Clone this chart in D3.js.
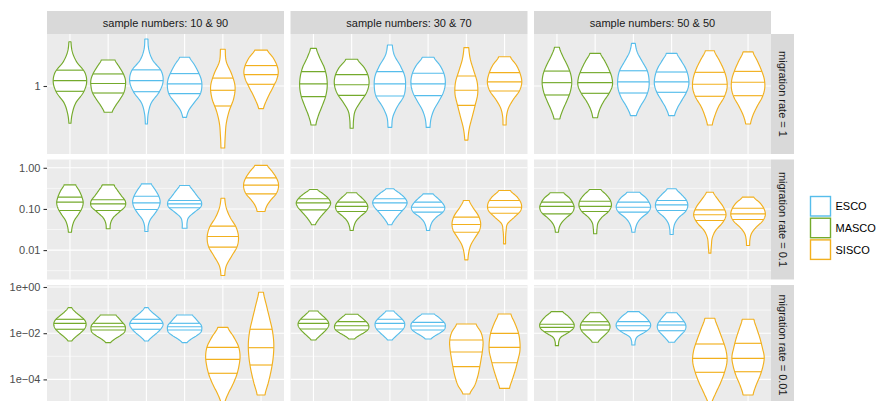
<!DOCTYPE html>
<html>
<head>
<meta charset="utf-8">
<script src="https://cdn.jsdelivr.net/npm/d3@7"></script>
<style>
  html, body { margin: 0; padding: 0; background: #ffffff; }
  svg { display: block; }
  text { font-family: "Liberation Sans", Arial, Helvetica, sans-serif; }
</style>
</head>
<body>
<div id="chart"></div>
<script>
// Facet labels
const sampleNumbers = ["10 & 90", "30 & 70", "50 & 50"];
const migrationRates = ["1", "0.1", "0.01"];

// Six violins per panel, two per method
const violinMethods = ["MASCO", "MASCO", "ESCO", "ESCO", "SISCO", "SISCO"];
const legendMethods = ["ESCO", "MASCO", "SISCO"];
const methodColours = { ESCO: "#56BDEB", MASCO: "#74AA2C", SISCO: "#F2B01E" };

// Log y axis of each facet row
const rowLimits = [[0.209, 3.31], [0.00193, 1.59], [7.8e-6, 1.22]];
const rowTicks = [[1], [1, 0.1, 0.01], [1, 0.01, 0.0001]];
const rowTickLabels = [["1"], ["1.00", "0.10", "0.01"], ["1e+00", "1e\u221202", "1e\u221204"]];
const rowMinorTicks = [[], [0.316, 0.0316, 0.00316], [0.1, 0.001, 0.00001]];

// Summary values: panels in row order (rate 1, 0.1, 0.01) x (10&90, 30&70, 50&50)
const vMin = [
  [0.424, 0.546, 0.417, 0.486, 0.240, 0.593],
  [0.407, 0.378, 0.386, 0.386, 0.288, 0.407],
  [0.468, 0.482, 0.505, 0.505, 0.407, 0.417],
  [0.0272, 0.0330, 0.0283, 0.0340, 0.00241, 0.0867],
  [0.0412, 0.0299, 0.0412, 0.0299, 0.00581, 0.0142],
  [0.0272, 0.0249, 0.0272, 0.0239, 0.00841, 0.0129],
  [0.00459, 0.00388, 0.00459, 0.00388, 8.6e-6, 2.11e-5],
  [0.00508, 0.00561, 0.00508, 0.00561, 2.33e-5, 4.12e-5],
  [0.00288, 0.00404, 0.00308, 0.00404, 8.6e-6, 2.11e-5]
];
const vQ25 = [
  [0.885, 0.851, 0.877, 0.838, 0.631, 1.04],
  [0.782, 0.807, 0.794, 0.800, 0.641, 0.891],
  [0.813, 0.845, 0.851, 0.865, 0.789, 0.800],
  [0.0917, 0.0917, 0.0970, 0.107, 0.0118, 0.233],
  [0.0953, 0.0867, 0.0917, 0.0834, 0.0272, 0.0788],
  [0.0762, 0.0867, 0.0834, 0.0917, 0.0524, 0.0554],
  [0.0148, 0.0138, 0.0148, 0.0138, 0.000184, 0.000420],
  [0.0152, 0.0138, 0.0152, 0.0138, 0.000355, 0.000528],
  [0.0116, 0.0138, 0.0128, 0.0128, 0.000203, 0.000215]
];
const vMedian = [
  [1.13, 1.06, 1.13, 1.05, 0.906, 1.30],
  [1.05, 1.03, 1.05, 1.05, 0.906, 1.10],
  [1.08, 1.08, 1.10, 1.10, 1.04, 1.09],
  [0.146, 0.133, 0.141, 0.133, 0.0214, 0.378],
  [0.141, 0.115, 0.141, 0.110, 0.0419, 0.110],
  [0.115, 0.115, 0.110, 0.126, 0.0721, 0.0762],
  [0.0268, 0.0191, 0.0268, 0.0191, 0.000741, 0.00236],
  [0.0268, 0.0211, 0.0268, 0.0205, 0.00153, 0.00245],
  [0.0180, 0.0226, 0.0211, 0.0226, 0.000819, 0.000819]
];
const vQ75 = [
  [1.44, 1.32, 1.45, 1.33, 1.20, 1.60],
  [1.39, 1.30, 1.39, 1.34, 1.26, 1.36],
  [1.41, 1.36, 1.42, 1.38, 1.37, 1.40],
  [0.193, 0.167, 0.204, 0.160, 0.0381, 0.571],
  [0.177, 0.146, 0.177, 0.146, 0.0631, 0.160],
  [0.146, 0.154, 0.146, 0.160, 0.0953, 0.104],
  [0.0400, 0.0268, 0.0400, 0.0268, 0.00245, 0.0148],
  [0.0400, 0.0315, 0.0400, 0.0296, 0.00508, 0.00990],
  [0.0243, 0.0315, 0.0315, 0.0315, 0.00341, 0.00365]
];
const vMax = [
  [2.77, 1.82, 2.95, 1.94, 2.33, 2.28],
  [2.38, 1.85, 2.57, 1.94, 2.42, 1.96],
  [2.44, 2.12, 2.67, 2.12, 2.25, 2.19],
  [0.386, 0.386, 0.408, 0.371, 0.182, 1.14],
  [0.297, 0.247, 0.309, 0.233, 0.160, 0.281],
  [0.247, 0.297, 0.255, 0.309, 0.255, 0.193],
  [0.127, 0.0614, 0.127, 0.0614, 0.0180, 0.590],
  [0.0914, 0.0658, 0.0914, 0.0678, 0.0250, 0.0678],
  [0.0853, 0.0771, 0.0853, 0.0771, 0.0442, 0.0400]
];

// Relative density (1 = widest violin) at nine evenly spaced levels, min -> max
const vDensity = [
  [[.06,.14,.34,.77,.97,.86,.40,.14,.06], [.23,.43,.69,.91,1.0,1.0,.86,.63,.40], [.06,.11,.29,.74,.97,.86,.37,.14,.09],
   [.11,.26,.57,.89,1.0,.97,.80,.57,.29], [.11,.14,.20,.37,.63,.71,.51,.20,.14], [.14,.29,.49,.71,.91,1.0,.91,.69,.37]],
  [[.14,.29,.51,.71,.80,.77,.63,.37,.17], [.09,.11,.20,.49,.83,1.0,.97,.74,.34], [.11,.17,.43,.80,.91,.86,.60,.26,.14],
   [.11,.17,.34,.63,.89,1.0,.94,.71,.34], [.09,.17,.34,.51,.66,.63,.43,.23,.14], [.09,.11,.23,.51,.86,1.0,.91,.69,.34]],
  [[.17,.34,.57,.77,.86,.80,.60,.34,.14], [.14,.26,.49,.80,1.0,.97,.80,.57,.31], [.17,.40,.71,.89,.91,.80,.51,.23,.11],
   [.17,.34,.60,.86,1.0,.97,.83,.57,.31], [.14,.29,.51,.83,1.0,.97,.80,.54,.26], [.14,.29,.54,.83,.97,.94,.77,.54,.29]],
  [[.09,.14,.26,.49,.69,.77,.69,.54,.34], [.11,.14,.29,.63,.97,1.0,.77,.54,.34], [.09,.11,.23,.49,.71,.80,.71,.51,.29],
   [.14,.14,.23,.57,.94,.97,.74,.51,.29], [.11,.20,.51,.83,.91,.77,.43,.20,.11], [.23,.34,.57,.86,1.0,1.0,.86,.63,.37]],
  [[.11,.26,.46,.69,.91,1.0,.86,.57,.23], [.09,.14,.26,.51,.83,.94,.83,.57,.29], [.11,.26,.46,.69,.91,1.0,.86,.57,.23],
   [.09,.14,.26,.51,.86,.97,.83,.57,.29], [.09,.14,.26,.51,.77,.83,.69,.40,.17], [.06,.06,.09,.17,.57,.94,.97,.74,.34]],
  [[.09,.14,.29,.57,.89,1.0,.91,.71,.40], [.09,.11,.17,.40,.77,.94,.89,.66,.34], [.09,.14,.26,.51,.86,1.0,.91,.69,.37],
   [.09,.11,.20,.43,.80,.94,.86,.57,.26], [.06,.09,.14,.34,.74,.94,.80,.49,.20], [.09,.11,.20,.46,.83,1.0,.94,.71,.34]],
  [[.11,.34,.63,.86,.94,.86,.60,.31,.11], [.14,.37,.69,.94,1.0,.97,.80,.63,.46], [.11,.34,.63,.86,.97,.86,.60,.31,.11],
   [.14,.37,.69,.94,1.0,.97,.80,.63,.46], [.09,.29,.57,.80,.94,1.0,.91,.63,.29], [.23,.43,.60,.71,.74,.66,.49,.31,.14]],
  [[.14,.34,.57,.77,.89,.86,.69,.46,.26], [.17,.40,.71,.94,1.0,.94,.77,.57,.37], [.14,.34,.57,.77,.86,.83,.66,.43,.23],
   [.17,.40,.71,.94,1.0,.97,.80,.60,.37], [.20,.49,.66,.77,.86,.94,.97,.86,.57], [.29,.46,.63,.77,.89,.89,.80,.60,.37]],
  [[.09,.11,.23,.63,.94,1.0,.86,.63,.34], [.17,.34,.57,.77,.86,.83,.69,.51,.31], [.09,.11,.23,.63,.94,1.0,.86,.63,.34],
   [.17,.34,.54,.74,.83,.80,.66,.49,.31], [.09,.34,.63,.86,1.0,.94,.74,.51,.29], [.29,.46,.69,.86,.94,.83,.69,.51,.34]]
];

// ---- layout ----
const W = 877, H = 401;
const panelLeft = 47, panelW = 237, gapX = 6.5;
const panelTop = 34, panelH = 120, gapY = 5.5;
const stripH = 23, stripW = 23;
const panelBg = "#EBEBEB", stripBg = "#D9D9D9";

const svg = d3.select("#chart").append("svg")
  .attr("width", W).attr("height", H)
  .attr("viewBox", `0 0 ${W} ${H}`);

// Catmull-Rom smoothing of a density profile at t in [0, 1]
function smoothAt(arr, t) {
  const n = arr.length - 1;
  const f = Math.max(0, Math.min(1, t)) * n;
  const i = Math.min(Math.floor(f), n - 1);
  const u = f - i;
  const p0 = arr[Math.max(i - 1, 0)], p1 = arr[i], p2 = arr[i + 1], p3 = arr[Math.min(i + 2, n)];
  const v = 0.5 * ((2 * p1) + (-p0 + p2) * u + (2 * p0 - 5 * p1 + 4 * p2 - p3) * u * u +
    (-p0 + 3 * p1 - 3 * p2 + p3) * u * u * u);
  return Math.max(0, v);
}

const defs = svg.append("defs");

migrationRates.forEach((rate, r) => {
  const py = panelTop + r * (panelH + gapY);
  const y = d3.scaleLog().domain(rowLimits[r]).range([py + panelH, py]);

  sampleNumbers.forEach((sn, c) => {
    const k = r * 3 + c;
    const px = panelLeft + c * (panelW + gapX);
    const x = d3.scalePoint().domain(d3.range(violinMethods.length))
      .range([px, px + panelW]).padding(0.6);
    const half = 0.45 * x.step();

    const clipId = `clip-${r}-${c}`;
    defs.append("clipPath").attr("id", clipId)
      .append("rect").attr("x", px).attr("y", py).attr("width", panelW).attr("height", panelH);

    const g = svg.append("g");
    g.append("rect").attr("x", px).attr("y", py).attr("width", panelW).attr("height", panelH)
      .attr("fill", panelBg);

    const grid = g.append("g").attr("clip-path", `url(#${clipId})`);
    grid.selectAll("line.minor").data(rowMinorTicks[r]).join("line")
      .attr("x1", px).attr("x2", px + panelW)
      .attr("y1", d => y(d)).attr("y2", d => y(d))
      .attr("stroke", "#ffffff").attr("stroke-width", 0.6);
    grid.selectAll("line.major").data(rowTicks[r]).join("line")
      .attr("x1", px).attr("x2", px + panelW)
      .attr("y1", d => y(d)).attr("y2", d => y(d))
      .attr("stroke", "#ffffff").attr("stroke-width", 1.1);
    grid.selectAll("line.vert").data(x.domain()).join("line")
      .attr("x1", d => x(d)).attr("x2", d => x(d))
      .attr("y1", py).attr("y2", py + panelH)
      .attr("stroke", "#ffffff").attr("stroke-width", 1.1);

    const marks = g.append("g").attr("clip-path", `url(#${clipId})`);
    violinMethods.forEach((m, i) => {
      const cx = x(i);
      const prof = vDensity[k][i];
      const y0 = y(vMin[k][i]), y1 = y(vMax[k][i]);
      const N = 80;
      const ts = d3.range(N + 1).map(j => j / N);
      const left = ts.map(t => [cx - smoothAt(prof, t) * half, y0 + (y1 - y0) * t]);
      const right = ts.slice().reverse().map(t => [cx + smoothAt(prof, t) * half, y0 + (y1 - y0) * t]);
      const colour = methodColours[m];
      marks.append("path")
        .attr("d", d3.line()(left.concat(right)) + "Z")
        .attr("fill", "#ffffff")
        .attr("stroke", colour).attr("stroke-width", 1.15)
        .attr("stroke-linejoin", "round");
      [vQ25[k][i], vMedian[k][i], vQ75[k][i]].forEach(q => {
        const yy = y(q);
        const w = smoothAt(prof, (yy - y0) / (y1 - y0)) * half;
        marks.append("line")
          .attr("x1", cx - w).attr("x2", cx + w)
          .attr("y1", yy).attr("y2", yy)
          .attr("stroke", colour).attr("stroke-width", 1.15);
      });
    });

    // column strip on the top row
    if (r === 0) {
      svg.append("rect").attr("x", px).attr("y", panelTop - stripH)
        .attr("width", panelW).attr("height", stripH).attr("fill", stripBg);
      svg.append("text").attr("x", px + panelW / 2).attr("y", panelTop - stripH / 2)
        .attr("text-anchor", "middle").attr("dominant-baseline", "central")
        .attr("font-size", 11).attr("fill", "#1A1A1A")
        .text(`sample numbers: ${sn}`);
    }

    // y axis on the first column
    if (c === 0) {
      const axis = d3.axisLeft(y).tickValues(rowTicks[r])
        .tickFormat((d, j) => rowTickLabels[r][j])
        .tickSize(3.5).tickPadding(3);
      const ag = svg.append("g").attr("transform", `translate(${px},0)`).call(axis);
      ag.select(".domain").remove();
      ag.selectAll(".tick line").attr("stroke", "#333333").attr("stroke-width", 1.1);
      ag.selectAll(".tick text").attr("fill", "#4D4D4D").attr("font-size", 11)
        .attr("font-family", "\"Liberation Sans\", Arial, Helvetica, sans-serif");
    }
  });

  // row strip on the right
  const sx = panelLeft + 3 * panelW + 2 * gapX;
  svg.append("rect").attr("x", sx).attr("y", py).attr("width", stripW).attr("height", panelH)
    .attr("fill", stripBg);
  svg.append("text")
    .attr("transform", `translate(${sx + stripW / 2},${py + panelH / 2}) rotate(90)`)
    .attr("text-anchor", "middle").attr("dominant-baseline", "central")
    .attr("font-size", 11).attr("fill", "#1A1A1A")
    .text(`migration rate = ${rate}`);
});

// legend
const legend = svg.append("g").attr("transform", "translate(810.5,196.5)");
legendMethods.forEach((m, i) => {
  const ly = i * 21.7;
  legend.append("rect").attr("x", 0).attr("y", ly).attr("width", 20).attr("height", 19.5)
    .attr("fill", "#ffffff").attr("stroke", methodColours[m]).attr("stroke-width", 1.4);
  legend.append("text").attr("x", 25).attr("y", ly + 9.75)
    .attr("dominant-baseline", "central").attr("font-size", 11).attr("fill", "#000000")
    .text(m);
});
</script>
</body>
</html>
